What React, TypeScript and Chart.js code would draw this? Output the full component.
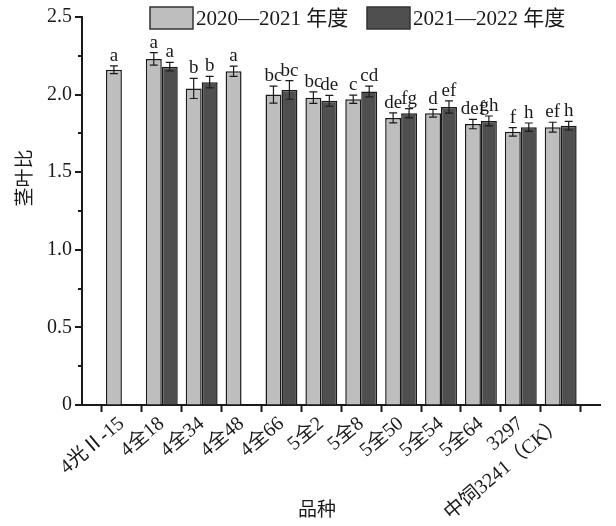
import React, { useEffect, useRef } from 'react';
import { Chart, registerables } from 'chart.js';

Chart.register(...registerables);

// Varieties (category axis has one empty slot at each end)
const categories = ['4光Ⅱ-15', '4全18', '4全34', '4全48', '4全66', '5全2', '5全8', '5全50', '5全54', '5全64', '3297', '中饲3241（CK）'];
const seriesNames = ['2020—2021 年度', '2021—2022 年度'];
const values2020 = [2.16, 2.23, 2.04, 2.15, 2.0, 1.98, 1.97, 1.85, 1.88, 1.81, 1.76, 1.79];
const values2021 = [null, 2.18, 2.08, null, 2.03, 1.96, 2.02, 1.88, 1.92, 1.83, 1.79, 1.8];
const errors2020 = [0.025, 0.04, 0.065, 0.033, 0.055, 0.037, 0.027, 0.032, 0.025, 0.03, 0.027, 0.032];
const errors2021 = [null, 0.028, 0.037, null, 0.06, 0.035, 0.035, 0.03, 0.04, 0.032, 0.027, 0.028];
const letters2020 = ['a', 'a', 'b', 'a', 'bc', 'bc', 'c', 'de', 'd', 'def', 'f', 'ef'];
const letters2021 = ['', 'a', 'b', '', 'bc', 'de', 'cd', 'fg', 'ef', 'gh', 'h', 'h'];
const yTicks = [0, 0.25, 0.5, 0.75, 1.0, 1.25, 1.5, 1.75, 2.0, 2.25, 2.5];
const yTitle = '茎叶比';
const xTitle = '品种';

const FONT = '"Liberation Serif", "Noto Sans CJK SC", serif';
const LIGHT = '#bebebe';
const DARK = '#4f4f4f';
const INK = '#1a1a1a';

const pad = (arr: (number | null)[]) => [null, ...arr, null];

const annotate = {
  id: 'annotate',
  afterDatasetsDraw(chart: any) {
    const ctx = chart.ctx;
    const y = chart.scales.y;
    const errs = [errors2020, errors2021];
    const vals = [values2020, values2021];
    const lets = [letters2020, letters2021];
    ctx.save();
    for (let d = 0; d < 2; d++) {
      const meta = chart.getDatasetMeta(d);
      for (let i = 0; i < categories.length; i++) {
        const v = vals[d][i];
        const e = errs[d][i];
        if (v == null) continue;
        const el = meta.data[i + 1];
        const cx = el.x;
        const top = y.getPixelForValue(v + (e || 0));
        const bot = y.getPixelForValue(v - (e || 0));
        ctx.strokeStyle = INK;
        ctx.lineWidth = 1.2;
        ctx.beginPath();
        ctx.moveTo(cx, top);
        ctx.lineTo(cx, bot);
        ctx.moveTo(cx - 4, top);
        ctx.lineTo(cx + 4, top);
        ctx.moveTo(cx - 4, bot);
        ctx.lineTo(cx + 4, bot);
        ctx.stroke();
        const t = lets[d][i];
        if (t) {
          ctx.fillStyle = INK;
          ctx.font = `19px ${FONT}`;
          ctx.textAlign = 'center';
          ctx.textBaseline = 'alphabetic';
          ctx.fillText(t, cx, top - 5);
        }
      }
    }
    ctx.restore();
  },
  afterDraw(chart: any) {
    const ctx = chart.ctx;
    const area = chart.chartArea;
    const y = chart.scales.y;
    ctx.save();
    // y tick marks (major / minor)
    ctx.strokeStyle = INK;
    ctx.lineWidth = 2;
    for (const v of yTicks) {
      const py = Math.round(y.getPixelForValue(v));
      const major = Math.abs(v * 2 - Math.round(v * 2)) < 1e-6;
      const len = major ? 7 : 4;
      ctx.beginPath();
      ctx.moveTo(area.left - len, py);
      ctx.lineTo(area.left, py);
      ctx.stroke();
    }
    // legend
    const items = [
      { x: 150, color: LIGHT, text: seriesNames[0] },
      { x: 367, color: DARK, text: seriesNames[1] },
    ];
    for (const it of items) {
      ctx.fillStyle = it.color;
      ctx.fillRect(it.x, 7, 43, 22);
      ctx.strokeStyle = '#333';
      ctx.lineWidth = 1.5;
      ctx.strokeRect(it.x, 7, 43, 22);
      ctx.fillStyle = INK;
      ctx.font = `21px ${FONT}`;
      ctx.textAlign = 'left';
      ctx.textBaseline = 'middle';
      ctx.fillText(it.text, it.x + 46, 19);
    }
    // axis titles
    ctx.fillStyle = INK;
    ctx.font = `19px ${FONT}`;
    ctx.textAlign = 'center';
    ctx.textBaseline = 'middle';
    ctx.fillText(xTitle, 317, 511);
    ctx.translate(26, 178);
    ctx.rotate(-Math.PI / 2);
    ctx.fillText(yTitle, 0, 0);
    ctx.restore();
  },
};

export default function App() {
  const ref = useRef<HTMLCanvasElement | null>(null);
  useEffect(() => {
    if (!ref.current) return;
    const chart = new Chart(ref.current, {
      type: 'bar',
      data: {
        labels: ['', ...categories, ''],
        datasets: [
          {
            label: seriesNames[0],
            data: pad(values2020),
            backgroundColor: LIGHT,
            borderColor: INK,
            borderWidth: 1.5,
            categoryPercentage: 0.8,
            barPercentage: 1.0,
          },
          {
            label: seriesNames[1],
            data: pad(values2021),
            backgroundColor: DARK,
            borderColor: INK,
            borderWidth: 1.5,
            categoryPercentage: 0.8,
            barPercentage: 1.0,
          },
        ],
      },
      options: {
        responsive: false,
        animation: false,
        devicePixelRatio: 1,
        layout: { padding: { top: 17, right: 4, left: 0, bottom: 0 } },
        plugins: { legend: { display: false }, tooltip: { enabled: false } },
        scales: {
          x: {
            type: 'category',
            offset: false,
            grid: { drawOnChartArea: false, drawTicks: true, tickLength: 7, tickColor: INK, tickWidth: 2 },
            border: { display: true, color: INK, width: 2 },
            ticks: {
              autoSkip: false,
              minRotation: 40,
              maxRotation: 40,
              padding: 0,
              color: INK,
              font: { family: FONT, size: 20 },
            },
            afterFit(scale: any) {
              scale.height = 121;
            },
          },
          y: {
            min: 0,
            max: 2.5,
            grid: { drawOnChartArea: false, drawTicks: true, tickLength: 8, tickColor: 'rgba(0,0,0,0)' },
            border: { display: true, color: INK, width: 2 },
            ticks: {
              stepSize: 0.25,
              padding: 2,
              color: INK,
              font: { family: FONT, size: 20 },
              callback: (v: any) => {
                const n = Number(v);
                if (Math.abs(n * 2 - Math.round(n * 2)) > 1e-6) return '';
                return n === 0 ? '0' : n.toFixed(1);
              },
            },
            afterFit(scale: any) {
              scale.width = 82;
            },
          },
        },
      },
      plugins: [annotate],
    });
    return () => chart.destroy();
  }, []);
  return (
    <div style={{ position: 'fixed', left: 0, top: 0, width: 616, height: 526, background: '#fff' }}>
      <canvas ref={ref} width={616} height={526} />
    </div>
  );
}
